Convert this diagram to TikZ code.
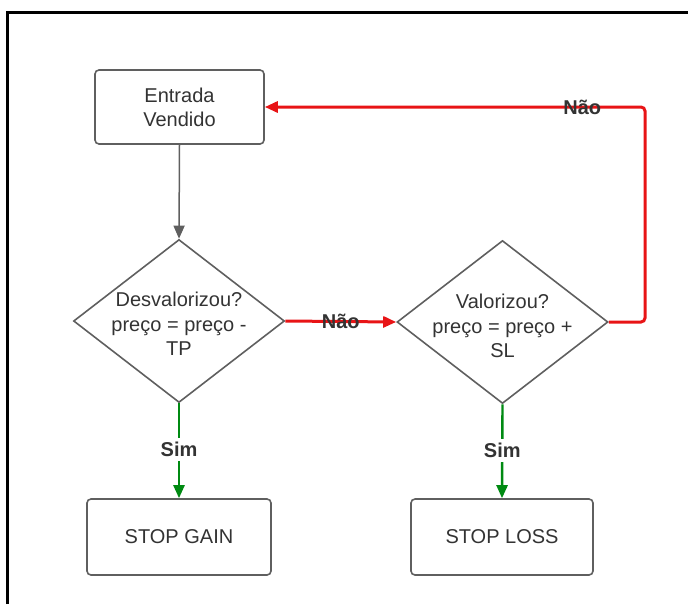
\documentclass[tikz,border=0pt]{standalone}
\usepackage{fontspec}
\setmainfont{Liberation Sans}
\usetikzlibrary{shapes.geometric,arrows.meta}
\definecolor{ink}{RGB}{51,51,51}
\definecolor{edge}{RGB}{95,95,95}
\definecolor{flowred}{RGB}{232,20,22}
\definecolor{flowgreen}{RGB}{0,138,18}
\tikzset{
  box/.style={draw=edge, line width=1.6pt*0.75, rounded corners=3pt, fill=white,
    minimum width=#1, minimum height=75*0.75pt, inner sep=0pt, text=ink,
    font=\fontsize{15pt}{18pt}\selectfont, align=center},
  box/.default={180*0.75pt},
  dia/.style={draw=edge, line width=1.6pt*0.75, diamond, minimum width=211*0.75pt,
    minimum height=163*0.75pt, inner sep=0pt},
  diatext/.style={text=ink, font=\fontsize{15pt}{18.4pt}\selectfont, align=center, inner sep=0pt},
  tip/.style={-{Triangle[length=13*0.75pt, width=11*0.75pt]}},
  grayflow/.style={tip, draw=edge, line width=1.5*0.75pt},
  redflow/.style={tip, draw=flowred, line width=3*0.75pt, rounded corners=4*0.75pt},
  greenflow/.style={tip, draw=flowgreen, line width=2.4*0.75pt},
  lbl/.style={font=\fontsize{15pt}{18pt}\selectfont\bfseries, text=ink, inner sep=0.5pt},
  gaplbl/.style={lbl, fill=white, inner ysep=3pt, inner xsep=1pt}
}
\begin{document}
\begin{tikzpicture}[x=0.75pt, y=-0.75pt]
  \useasboundingbox (0,0) rectangle (688,604);
  % page frame, open to the right and bottom
  \draw[black, line width=2.2*0.75pt] (7.5,604) -- (7.5,12.5) -- (688,12.5);

  % boxes
  \node[box={169*0.75pt}, minimum height=74*0.75pt] (entrada) at (179.5,107) {Entrada\\Vendido};
  \node[box={184*0.75pt}, minimum height=76*0.75pt] (gain) at (179,537) {STOP GAIN};
  \node[box={182*0.75pt}, minimum height=76*0.75pt] (loss) at (502,537) {STOP LOSS};

  % decisions
  \node[dia] (desv) at (179,321) {};
  \node[diatext] (desvt) at (179,324) {Desvalorizou?\\preço = preço -\\TP};
  \node[dia] (valo) at (502.5,322) {};
  \node[diatext] (valot) at (502.5,326) {Valorizou?\\preço = preço +\\SL};

  \coordinate (loopcorner) at (645,107);

  % connectors
  \draw[grayflow] (entrada.south) -- (desv.north);
  \draw[redflow] (desv.east) -- node[lbl, pos=0.5] {Não} (valo.west);
  \draw[redflow] (valo.east) -| (loopcorner) -- node[lbl, pos=0.165] {Não} (entrada.east);
  \draw[greenflow] (desv.south) -- node[gaplbl, pos=0.49] {Sim} (gain.north);
  \draw[greenflow] (valo.south) -- node[gaplbl, pos=0.49] {Sim} (loss.north);
\end{tikzpicture}
\end{document}
